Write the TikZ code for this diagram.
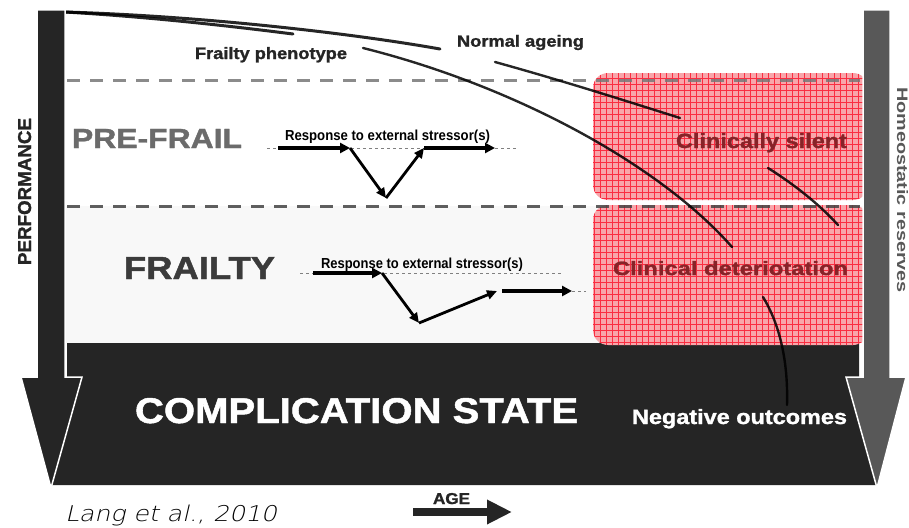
\documentclass[tikz,border=0pt]{standalone}
\usepackage{fontspec}
\usepackage{graphicx}
\setmainfont{Liberation Sans}
\newfontfamily\langfont{DejaVu Sans ExtraLight}[FakeSlant=0.2]
\newfontfamily\heavyfont{Liberation Sans}[FakeBold=1.3]
\usetikzlibrary{arrows.meta}
\definecolor{darkfill}{HTML}{252525}
\definecolor{rightgray}{HTML}{585858}
\definecolor{bglight}{HTML}{F8F8F8}
\definecolor{pinkbase}{RGB}{248,165,170}
\definecolor{pinkgrid}{RGB}{250,45,65}
\definecolor{boxtext}{RGB}{135,35,40}
\definecolor{upperdash}{HTML}{777777}
\definecolor{lowerdash}{HTML}{444444}
\definecolor{prefrailgray}{HTML}{6B6B6B}
\newcommand{\fitbold}[3]{\resizebox{#1pt}{#2pt}{\bfseries #3}}
\newcommand{\fitheavy}[3]{\resizebox{#1pt}{#2pt}{\heavyfont\bfseries #3}}
\newcommand{\fitreg}[3]{\resizebox{#1pt}{#2pt}{#3}}
\begin{document}
\begin{tikzpicture}[x=1pt,y=-1pt,
  lbl/.style={inner sep=0pt, outer sep=0pt, anchor=base west},
  dashline/.style={line width=3pt, dash pattern=on 13pt off 10pt},
  curve/.style={line width=2.4pt, black, draw opacity=0.85, line cap=round},
  thinref/.style={line width=0.8pt, draw=gray, dash pattern=on 3pt off 3pt},
  resparrow/.style={line width=3.6pt, -{Triangle[length=10pt,width=10pt]}},
  vline/.style={line width=2.8pt, -{Triangle[length=10pt,width=9pt]}},
  arrowshape/.style={draw=white, line width=1.5pt, line join=miter}]
\useasboundingbox (0,0) rectangle (909,527);
\fill[white] (0,0) rectangle (909,527);
% lower light band
\fill[bglight] (65,206) rectangle (863,343);
% complication block
\fill[darkfill] (67,343) -- (859,343) -- (859,377) -- (846,377) -- (876,485)
  -- (52,485) -- (82,377) -- (67,377) -- cycle;
% pink boxes
\begin{scope}
\path[clip, rounded corners=15pt] (593,73) rectangle (868,200);
\fill[pinkbase] (590,70) rectangle (870,205);
\draw[pinkgrid, line width=0.6pt, step=6pt] (588,68) grid (872,206);
\end{scope}
\begin{scope}
\path[clip, rounded corners=15pt] (593,205) rectangle (868,345);
\fill[pinkbase] (590,200) rectangle (870,350);
\draw[pinkgrid, line width=0.6pt, step=6pt] (588,200) grid (872,350);
\end{scope}
% dashed level lines
\coordinate (u1) at (67,80); \coordinate (u2) at (860,80);
\coordinate (l1) at (67,206); \coordinate (l2) at (860,206);
\draw[dashline, draw=upperdash, draw opacity=0.85] (u1) -- (u2);
\draw[dashline, draw=lowerdash, draw opacity=0.85] (l1) -- (l2);
% curves
\coordinate (s) at (65,12);
\coordinate (a1e) at (440,49);
\coordinate (a2s) at (495,62); \coordinate (a2e) at (680,118);
\coordinate (a3s) at (768,168); \coordinate (a3e) at (838,225);
\coordinate (b1e) at (293,34);
\coordinate (b2s) at (363,48); \coordinate (b2e) at (732,247);
\coordinate (b3s) at (763,297); \coordinate (b3e) at (787,405);
\draw[curve, line width=3pt] (s) .. controls (200,16) and (350,33) .. (a1e);
\draw[curve] (a2s) .. controls (560,80) and (620,99) .. (a2e);
\draw[curve] (a3s) .. controls (795,185) and (820,205) .. (a3e);
\draw[curve, line width=3pt] (s) .. controls (150,17) and (230,26) .. (b1e);
\draw[curve] (b2s) .. controls (515,86) and (660,165) .. (b2e);
\draw[curve] (b3s) .. controls (783,330) and (788,370) .. (b3e);
% arrows
\filldraw[darkfill, arrowshape] (37,10) -- (65,10) -- (65,377) -- (82,377) -- (51,488)
  -- (21,377) -- (37,377) -- cycle;
\filldraw[rightgray, arrowshape] (863,10) -- (890,10) -- (890,377) -- (906,377) -- (877,488)
  -- (846,377) -- (863,377) -- cycle;
% pre-frail response
\coordinate (p0) at (267,148); \coordinate (p9) at (517,148);
\coordinate (p1) at (278,148); \coordinate (p2) at (350,148);
\coordinate (p3) at (386,198); \coordinate (p4) at (424,148);
\coordinate (p5) at (495,148);
\draw[thinref] (p0) -- (p9);
\draw[resparrow] (p1) -- (p2);
\draw[vline] (p2) -- (p3);
\draw[vline] (p3) -- (p4);
\draw[resparrow] (p4) -- (p5);
% frailty response
\coordinate (f0) at (300,273); \coordinate (f9) at (563,273);
\coordinate (f1) at (313,273); \coordinate (f2) at (382,273);
\coordinate (f3) at (419,323); \coordinate (f4) at (497,291);
\coordinate (f5) at (502,291); \coordinate (f6) at (572,291);
\coordinate (f7) at (586,291);
\draw[thinref] (f0) -- (f9);
\draw[thinref] (f6) -- (f7);
\draw[resparrow] (f1) -- (f2);
\draw[vline] (f2) -- (f3);
\draw[vline] (f3) -- (f4);
\draw[resparrow] (f5) -- (f6);
% AGE arrow
\coordinate (age1) at (413,512); \coordinate (age2) at (512,512);
\draw[line width=8pt, darkfill, -{Triangle[length=25pt,width=23pt]}] (age1) -- (age2);
% texts
\node[lbl, text=darkfill] (tfp) at (195,59) {\fitheavy{152}{12}{Frailty phenotype}};
\node[lbl, text=darkfill] (tna) at (457,46.7) {\fitheavy{127}{11.7}{Normal ageing}};
\node[lbl, text=prefrailgray] (tpf) at (72,148) {\fitheavy{170}{19}{PRE-FRAIL}};
\node[lbl, text=darkfill!90] (tfr) at (124,279) {\fitheavy{151}{22}{FRAILTY}};
\node[lbl, text=white] (tcs) at (135,423) {\fitheavy{443}{25}{COMPLICATION STATE}};
\node[lbl, text=white] (tno) at (632,424) {\fitheavy{215}{15}{Negative outcomes}};
\node[lbl, text=boxtext] (tcl) at (676,148) {\fitheavy{171}{15}{Clinically silent}};
\node[lbl, text=boxtext] (tcd) at (613,275) {\fitheavy{235}{14}{Clinical deteriotation}};
\node[lbl, text=black] (tr1) at (285,140) {\fitbold{205}{10.5}{Response to external stressor(s)}};
\node[lbl, text=black] (tr2) at (321,268) {\fitbold{202}{10.5}{Response to external stressor(s)}};
\node[lbl, text=darkfill] (tage) at (433,504) {\fitheavy{37}{11}{AGE}};
\node[lbl, text=darkfill, rotate=90] (tperf) at (31,265) {\fitheavy{147}{13}{PERFORMANCE}};
\node[lbl, text=rightgray, rotate=-90] (thr) at (897,87) {\fitbold{206}{11}{Homeostatic reserves}};
\node[lbl, text=black] (tlang) at (65,521) {\fitreg{212}{16.5}{\langfont Lang et al., 2010}};
\end{tikzpicture}
\end{document}
